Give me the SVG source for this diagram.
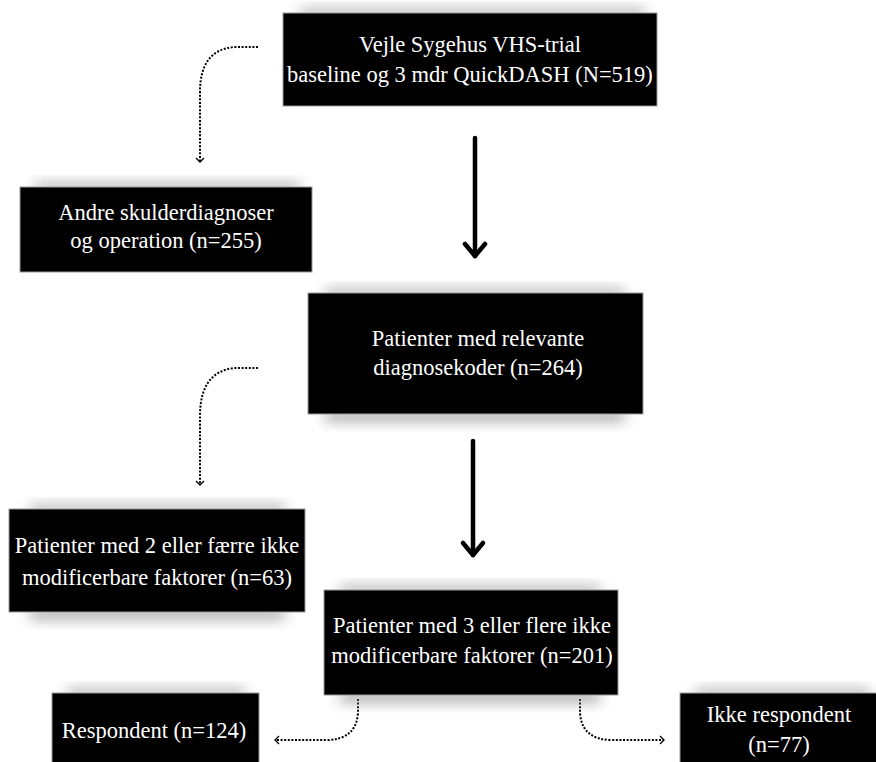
<svg xmlns="http://www.w3.org/2000/svg" width="876" height="762" viewBox="0 0 876 762">
<defs>
<filter id="blur" x="-20%" y="-150%" width="140%" height="400%"><feGaussianBlur stdDeviation="7"/></filter>
<marker id="ah" markerWidth="10" markerHeight="10" refX="5" refY="5" orient="auto" markerUnits="userSpaceOnUse"><path d="M1,1 L5,5 L1,9" fill="none" stroke="#000" stroke-width="1.3"/></marker>
</defs>
<style>
.box{fill:#000;stroke:#999;stroke-width:1}
.sh{fill:#8a8a8a;filter:url(#blur)}
.t{font-family:'Liberation Serif','Times New Roman',serif;font-size:22.5px;fill:#fff;text-anchor:middle}
.thick{fill:none;stroke:#000;stroke-width:4.5;stroke-linecap:round;stroke-linejoin:round}
.dot{fill:none;stroke:#000;stroke-width:2;stroke-dasharray:2 1.6}
</style>
<rect width="876" height="762" fill="#fff"/>
<g id="connectors">
<path class="thick" d="M475,138 L475,256"/>
<path class="thick" d="M465,244 L475,256 L485,244"/>
<path class="thick" d="M473,441 L473,555"/>
<path class="thick" d="M463,543 L473,555 L483,543"/>
<path class="dot" d="M258,47 L234,47 Q200,50 200,92 L200,162" marker-end="url(#ah)"/>
<path class="dot" d="M258,368 L234,368 Q200,372 200,416 L200,485" marker-end="url(#ah)"/>
<path class="dot" d="M358,699 L358,713 Q356,740 326,740 L275,740" marker-end="url(#ah)"/>
<path class="dot" d="M580,699 L580,713 Q582,740 612,740 L664,740" marker-end="url(#ah)"/>
</g>
<g id="n1">
<rect class="sh" x="300" y="10" width="345" height="6"/>
<rect class="box" x="283" y="13" width="374" height="93"/>
<text class="t" x="470" y="52">Vejle Sygehus VHS-trial</text>
<text class="t" x="470" y="82">baseline og 3 mdr QuickDASH (N=519)</text>
</g>
<g id="n2">
<rect class="sh" x="35" y="184" width="265" height="6"/>
<rect class="box" x="20" y="187" width="292" height="85"/>
<text class="t" x="166" y="220">Andre skulderdiagnoser</text>
<text class="t" x="166" y="248">og operation (n=255)</text>
</g>
<g id="n3">
<rect class="sh" x="325" y="290" width="300" height="6"/>
<rect class="sh" x="325" y="412" width="300" height="8"/>
<rect class="box" x="308" y="293" width="335" height="121"/>
<text class="t" x="478" y="346">Patienter med relevante</text>
<text class="t" x="478" y="375">diagnosekoder (n=264)</text>
</g>
<g id="n4">
<rect class="sh" x="30" y="506" width="255" height="6"/>
<rect class="sh" x="30" y="610" width="255" height="8"/>
<rect class="box" x="9" y="509" width="296" height="103"/>
<text class="t" x="157" y="553">Patienter med 2 eller færre ikke</text>
<text class="t" x="157" y="585">modificerbare faktorer (n=63)</text>
</g>
<g id="n5">
<rect class="sh" x="340" y="587" width="260" height="6"/>
<rect class="sh" x="340" y="693" width="260" height="8"/>
<rect class="box" x="324" y="590" width="294" height="105"/>
<text class="t" x="472" y="633">Patienter med 3 eller flere ikke</text>
<text class="t" x="472" y="663">modificerbare faktorer (n=201)</text>
</g>
<g id="n6">
<rect class="sh" x="67" y="690" width="178" height="6"/>
<rect class="box" x="52" y="693" width="207" height="75"/>
<text class="t" x="154" y="738">Respondent (n=124)</text>
</g>
<g id="n7">
<rect class="sh" x="695" y="690" width="175" height="6"/>
<rect class="box" x="680" y="693" width="200" height="75"/>
<text class="t" x="779" y="722">Ikke respondent</text>
<text class="t" x="779" y="752">(n=77)</text>
</g>
</svg>
